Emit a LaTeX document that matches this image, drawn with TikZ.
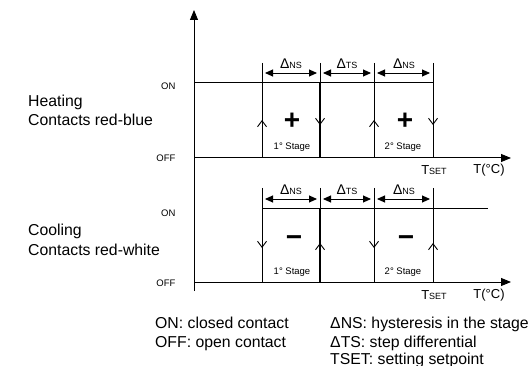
\documentclass[tikz,border=0pt]{standalone}
\usepackage{fontspec}
\setmainfont{Liberation Sans}
\usetikzlibrary{arrows.meta}

\newcommand{\dlt}[1]{{\fontsize{14}{14}\selectfont Δ}{\fontsize{9}{9}\selectfont #1}}
\newcommand{\tset}{{\fontsize{13}{13}\selectfont T}{\fontsize{9}{9}\selectfont SET}}

\tikzset{
  axisline/.style={line width=1pt, -{Triangle[length=10pt,width=8pt]}},
  level/.style={line width=1pt},
  bar/.style={line width=0.9pt},
  dimline/.style={line width=0.9pt, {Triangle[length=8pt,width=7pt]}-{Triangle[length=8pt,width=7pt]}},
  flow/.style={line width=0.9pt, -{Straight Barb[length=6pt,width=9pt]}},
  small/.style={font=\fontsize{9.5}{11}\selectfont},
  big/.style={font=\fontsize{15.8}{19}\selectfont},
  sign/.style={font=\fontsize{28}{28}\selectfont\bfseries},
}

\begin{document}
\begin{tikzpicture}[x=1pt, y=-1pt]
  \useasboundingbox (0,0) rectangle (530,366);

  % --- axes ---
  \draw[axisline] (194,291) -- (194,10);
  \draw[axisline] (194,158) -- (511,158);
  \draw[axisline] (194,282) -- (511,282);

  % --- Heating: red-blue ---
  \draw[level] (194,83) -- (433,83);
  \foreach \x in {262,320,374,433}
    \draw[bar] (\x,63) -- (\x,158);
  \draw[line width=1.4pt] (320,83) -- (320,158);
  \foreach \x/\from/\to in {262/158/120, 320/83/125, 374/158/120, 433/83/125}
    \draw[flow] (\x,\from) -- (\x,\to);
  \draw[dimline] (265,73) -- (317,73);
  \draw[dimline] (323,73) -- (371,73);
  \draw[dimline] (377,73) -- (430,73);
  \node (hns1) at (291,64) {\dlt{NS}};
  \node (hts)  at (347,64) {\dlt{TS}};
  \node (hns2) at (404,64) {\dlt{NS}};
  \node[sign] (hplus1) at (292,121) {+};
  \node[sign] (hplus2) at (405,121) {+};
  \node[small] (hstage1) at (292,147) {1° Stage};
  \node[small] (hstage2) at (403,147) {2° Stage};
  \node (htset) at (434,170) {\tset};
  \node[font=\fontsize{13}{13}\selectfont] (htemp) at (489,170) {T(°C)};
  \node[small, anchor=east] (hon)  at (179,86)  {ON};
  \node[small, anchor=east] (hoff) at (179,158) {OFF};
  \node[big, anchor=base west, inner sep=0pt] (hname) at (28,107) {Heating};
  \node[big, anchor=base west, inner sep=0pt] (hcont) at (28,126) {Contacts red-blue};

  % --- Cooling: red-white ---
  \draw[level] (262,209) -- (488,209);
  \foreach \x in {262,320,374,433}
    \draw[bar] (\x,188) -- (\x,282);
  \draw[line width=1.4pt] (320,209) -- (320,282);
  \foreach \x/\from/\to in {262/209/248, 320/282/243, 374/209/248, 433/282/243}
    \draw[flow] (\x,\from) -- (\x,\to);
  \draw[dimline] (265,199) -- (317,199);
  \draw[dimline] (323,199) -- (371,199);
  \draw[dimline] (377,199) -- (430,199);
  \node (cns1) at (291,190) {\dlt{NS}};
  \node (cts)  at (347,190) {\dlt{TS}};
  \node (cns2) at (404,190) {\dlt{NS}};
  \node[sign] (cminus1) at (294,241) {−};
  \node[sign] (cminus2) at (406,241) {−};
  \node[small] (cstage1) at (292,272) {1° Stage};
  \node[small] (cstage2) at (403,272) {2° Stage};
  \node (ctset) at (434,295) {\tset};
  \node[font=\fontsize{13}{13}\selectfont] (ctemp) at (489,295) {T(°C)};
  \node[small, anchor=east] (con)  at (179,213) {ON};
  \node[small, anchor=east] (coff) at (179,283) {OFF};
  \node[big, anchor=base west, inner sep=0pt] (cname) at (28,236) {Cooling};
  \node[big, anchor=base west, inner sep=0pt] (ccont) at (28,255) {Contacts red-white};

  % --- legend ---
  \node[big, anchor=base west, inner sep=0pt] (lon)  at (155,328) {ON: closed contact};
  \node[big, anchor=base west, inner sep=0pt] (loff) at (155,347) {OFF: open contact};
  \node[big, anchor=base west, inner sep=0pt] (lns)  at (330,328) {ΔNS: hysteresis in the stage};
  \node[big, anchor=base west, inner sep=0pt] (lts)  at (330,347) {ΔTS: step differential};
  \node[big, anchor=base west, inner sep=0pt] (lset) at (330,364) {TSET: setting setpoint};
\end{tikzpicture}
\end{document}
